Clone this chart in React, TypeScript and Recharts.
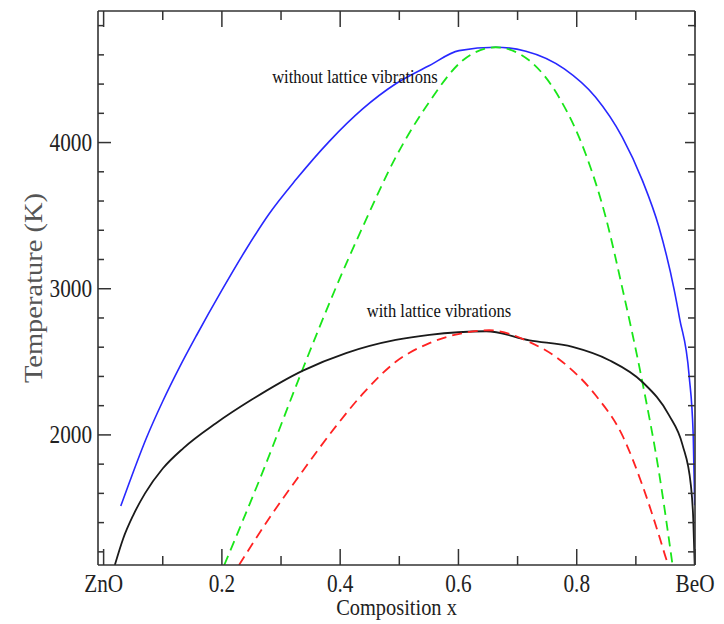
import { LineChart, Line, XAxis, YAxis, ReferenceDot } from 'recharts'

// composition x (0 = ZnO, 1 = BeO) against temperature in K
const binodalNoVib = [
  { x: 0.029, t: 1513 }, { x: 0.044, t: 1679 }, { x: 0.072, t: 1975 },
  { x: 0.1, t: 2230 }, { x: 0.128, t: 2460 }, { x: 0.157, t: 2680 },
  { x: 0.2, t: 2990 }, { x: 0.241, t: 3270 }, { x: 0.28, t: 3513 },
  { x: 0.326, t: 3750 }, { x: 0.382, t: 4010 }, { x: 0.438, t: 4230 },
  { x: 0.494, t: 4402 }, { x: 0.551, t: 4527 }, { x: 0.601, t: 4629 },
  { x: 0.663, t: 4652 }, { x: 0.714, t: 4625 }, { x: 0.779, t: 4504 },
  { x: 0.832, t: 4310 }, { x: 0.877, t: 4037 }, { x: 0.911, t: 3741 },
  { x: 0.939, t: 3422 }, { x: 0.965, t: 2989 }, { x: 0.974, t: 2796 },
  { x: 0.99, t: 2408 }, { x: 0.997, t: 1998 }, { x: 0.9995, t: 1519 },
]

const spinodalNoVib = [
  { x: 0.204, t: 1110 }, { x: 0.269, t: 1747 }, { x: 0.337, t: 2454 },
  { x: 0.393, t: 3010 }, { x: 0.438, t: 3422 }, { x: 0.494, t: 3900 },
  { x: 0.551, t: 4280 }, { x: 0.607, t: 4561 }, { x: 0.663, t: 4652 },
  { x: 0.72, t: 4561 }, { x: 0.77, t: 4310 }, { x: 0.815, t: 3923 },
  { x: 0.849, t: 3490 }, { x: 0.877, t: 3006 }, { x: 0.911, t: 2362 },
  { x: 0.939, t: 1747 }, { x: 0.962, t: 1110 },
]

const binodalVib = [
  { x: 0.019, t: 1110 }, { x: 0.033, t: 1290 }, { x: 0.05, t: 1450 },
  { x: 0.07, t: 1600 }, { x: 0.1, t: 1770 }, { x: 0.135, t: 1910 },
  { x: 0.19, t: 2080 }, { x: 0.25, t: 2240 }, { x: 0.337, t: 2440 },
  { x: 0.41, t: 2560 }, { x: 0.494, t: 2650 }, { x: 0.551, t: 2685 },
  { x: 0.647, t: 2709 }, { x: 0.72, t: 2647 }, { x: 0.793, t: 2602 },
  { x: 0.855, t: 2511 }, { x: 0.911, t: 2362 }, { x: 0.956, t: 2135 },
  { x: 0.979, t: 1930 }, { x: 0.993, t: 1656 }, { x: 0.997, t: 1429 },
  { x: 0.9995, t: 1110 },
]

const spinodalVib = [
  { x: 0.229, t: 1110 }, { x: 0.28, t: 1430 }, { x: 0.337, t: 1755 },
  { x: 0.393, t: 2060 }, { x: 0.438, t: 2280 }, { x: 0.494, t: 2500 },
  { x: 0.551, t: 2628 }, { x: 0.607, t: 2696 }, { x: 0.652, t: 2716 },
  { x: 0.72, t: 2636 }, { x: 0.776, t: 2499 }, { x: 0.832, t: 2271 },
  { x: 0.877, t: 1998 }, { x: 0.911, t: 1656 }, { x: 0.939, t: 1314 },
  { x: 0.953, t: 1132 }, { x: 0.955, t: 1110 },
]

const xTicks = [0, 0.1, 0.2, 0.3, 0.4, 0.5, 0.6, 0.7, 0.8, 0.9, 1]
const xTickNames: Record<string, string> = { '0': 'ZnO', '1': 'BeO' }
const yTicks = [1200, 1400, 1600, 1800, 2000, 2200, 2400, 2600, 2800, 3000, 3200, 3400, 3600, 3800, 4000, 4200, 4400, 4600, 4800]

const axisColor = '#333'
const font = '"Liberation Serif", "Times New Roman", serif'
const squeeze = 0.85

const isMajorX = (v: number) => Math.abs(v * 5 - Math.round(v * 5)) < 1e-6
const isMajorY = (v: number) => v % 1000 === 0

function BottomTick({ x, y, payload }: any) {
  const v = payload.value
  const major = isMajorX(v)
  const name = xTickNames[String(v)] ?? String(v)
  return (
    <g>
      <line x1={x} x2={x} y1={y} y2={y - (major ? 16 : 9)} stroke={axisColor} strokeWidth={1.5} />
      {major && (
        <text
          transform={`translate(${x},${y + 27}) scale(${squeeze},1)`}
          textAnchor="middle"
          fontSize={25}
          fontFamily={font}
          fill="#222"
        >
          {name}
        </text>
      )}
    </g>
  )
}

function TopTick({ x, y, payload }: any) {
  const major = isMajorX(payload.value)
  return <line x1={x} x2={x} y1={y} y2={y + (major ? 16 : 9)} stroke={axisColor} strokeWidth={1.5} />
}

function LeftTick({ x, y, payload }: any) {
  const v = payload.value
  const major = isMajorY(v)
  return (
    <g>
      <line x1={x} x2={x + (major ? 13 : 6)} y1={y} y2={y} stroke={axisColor} strokeWidth={1.5} />
      {major && (
        <text
          transform={`translate(${x - 6},${y + 8.5}) scale(${squeeze},1)`}
          textAnchor="end"
          fontSize={25}
          fontFamily={font}
          fill="#222"
        >
          {v}
        </text>
      )}
    </g>
  )
}

function RightTick({ x, y, payload }: any) {
  const major = isMajorY(payload.value)
  return <line x1={x} x2={x - (major ? 10 : 7)} y1={y} y2={y} stroke={axisColor} strokeWidth={1.5} />
}

function XTitle({ viewBox }: any) {
  return (
    <text
      transform={`translate(${viewBox.x + viewBox.width / 2},${viewBox.y + 50}) scale(${squeeze},1)`}
      textAnchor="middle"
      fontSize={24}
      fontFamily={font}
      fill="#222"
    >
      Composition x
    </text>
  )
}

function YTitle({ viewBox }: any) {
  return (
    <text
      transform={`translate(${viewBox.x + 42},${viewBox.y + viewBox.height / 2}) scale(${squeeze},1) rotate(-90)`}
      textAnchor="middle"
      fontSize={28.5}
      fontFamily={font}
      fill="#555"
    >
      Temperature (K)
    </text>
  )
}

const curveNote = (text: string) => (p: any) => (
  <text
    transform={`translate(${p.cx},${p.cy}) scale(${squeeze},1)`}
    fontSize={19.5}
    fontFamily={font}
    fill="#111"
  >
    {text}
  </text>
)

export default function App() {
  return (
    <div style={{ position: 'absolute', left: 0, top: 0, background: '#fff' }}>
      <LineChart width={724} height={624} margin={{ top: 0, right: 0, bottom: 0, left: 0 }}>
        <XAxis
          xAxisId="b"
          type="number"
          dataKey="x"
          domain={[-0.0095, 1]}
          allowDataOverflow
          ticks={xTicks}
          interval={0}
          height={59}
          tickSize={0}
          tickMargin={0}
          tickLine={false}
          tick={<BottomTick />}
          axisLine={{ stroke: axisColor, strokeWidth: 1.6 }}
          label={<XTitle />}
        />
        <XAxis
          xAxisId="t"
          orientation="top"
          type="number"
          dataKey="x"
          domain={[-0.0095, 1]}
          allowDataOverflow
          ticks={xTicks}
          interval={0}
          height={11}
          tickSize={0}
          tickMargin={0}
          tickLine={false}
          tick={<TopTick />}
          axisLine={{ stroke: axisColor, strokeWidth: 1.6 }}
        />
        <YAxis
          yAxisId="l"
          type="number"
          domain={[1110, 4900]}
          allowDataOverflow
          ticks={yTicks}
          interval={0}
          width={98}
          tickSize={0}
          tickMargin={0}
          tickLine={false}
          tick={<LeftTick />}
          axisLine={{ stroke: axisColor, strokeWidth: 1.6 }}
          label={<YTitle />}
        />
        <YAxis
          yAxisId="r"
          orientation="right"
          type="number"
          domain={[1110, 4900]}
          allowDataOverflow
          ticks={yTicks}
          interval={0}
          width={29}
          tickSize={0}
          tickMargin={0}
          tickLine={false}
          tick={<RightTick />}
          axisLine={{ stroke: axisColor, strokeWidth: 1.6 }}
        />
        <Line
          xAxisId="b"
          yAxisId="l"
          data={binodalNoVib}
          dataKey="t"
          type="monotone"
          stroke="#2828ff"
          strokeWidth={1.6}
          dot={false}
          isAnimationActive={false}
        />
        <Line
          xAxisId="b"
          yAxisId="l"
          data={spinodalNoVib}
          dataKey="t"
          type="monotone"
          stroke="#19e619"
          strokeWidth={1.8}
          strokeDasharray="10 6"
          dot={false}
          isAnimationActive={false}
        />
        <Line
          xAxisId="b"
          yAxisId="l"
          data={binodalVib}
          dataKey="t"
          type="monotone"
          stroke="#1a1a1a"
          strokeWidth={1.8}
          dot={false}
          isAnimationActive={false}
        />
        <Line
          xAxisId="b"
          yAxisId="l"
          data={spinodalVib}
          dataKey="t"
          type="monotone"
          stroke="#ff2222"
          strokeWidth={1.8}
          strokeDasharray="10 6"
          dot={false}
          isAnimationActive={false}
        />
        <ReferenceDot
          xAxisId="b"
          yAxisId="l"
          x={0.285}
          y={4406}
          r={0}
          ifOverflow="visible"
          shape={curveNote('without lattice vibrations')}
        />
        <ReferenceDot
          xAxisId="b"
          yAxisId="l"
          x={0.445}
          y={2807}
          r={0}
          ifOverflow="visible"
          shape={curveNote('with lattice vibrations')}
        />
      </LineChart>
    </div>
  )
}
